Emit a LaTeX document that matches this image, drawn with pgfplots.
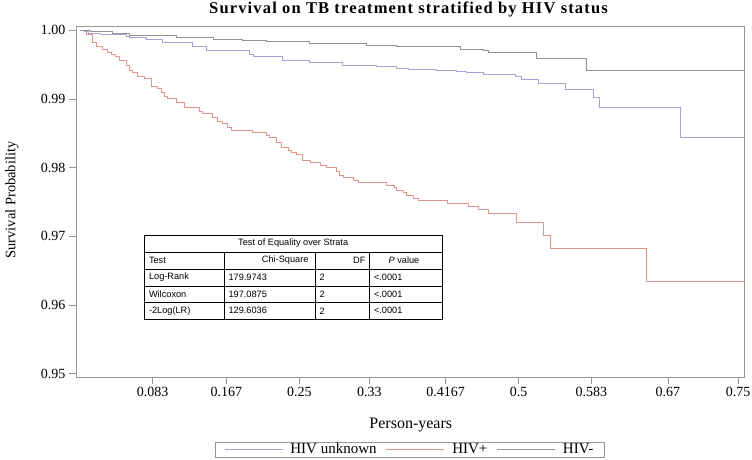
\documentclass[border=0pt]{standalone}
\usepackage{fontspec}
\setmainfont{Liberation Serif}
\newfontfamily\titlefont[LetterSpace=7]{Liberation Serif}
\newfontfamily\tabfont{Liberation Sans}
\usepackage{pgfplots}
\pgfplotsset{compat=1.18}
\definecolor{cunk}{RGB}{168,162,215}
\definecolor{cpos}{RGB}{226,150,138}
\definecolor{cneg}{RGB}{140,150,150}
\definecolor{axgray}{RGB}{150,150,150}
\begin{document}
\begin{tikzpicture}
\path[use as bounding box] (-76bp,-83bp) rectangle (676bp,377bp);
\begin{axis}[
  at={(0,0)}, anchor=south west,
  scale only axis, width=668bp, height=351bp,
  xmin=-0.00444, xmax=0.75681, ymin=0.9495, ymax=1.000626,
  axis line style={axgray},
  tick align=outside, xtick pos=bottom, ytick pos=left,
  major tick length=7bp,
  tick style={axgray, line width=0.5pt},
  xtick={0.083,0.167,0.25,0.33,0.4167,0.5,0.583,0.67,0.75},
  xticklabels={0.083,0.167,0.25,0.33,0.4167,0.5,0.583,0.67,0.75},
  ytick={0.95,0.96,0.97,0.98,0.99,1.00},
  yticklabels={0.95,0.96,0.97,0.98,0.99,1.00},
  tick label style={font=\fontsize{14bp}{16bp}\selectfont},
  legend columns=3,
  legend style={at={(0.4993,-0.2066)}, anchor=center, draw=axgray, line width=0.5pt,
    font=\fontsize{15bp}{15bp}\selectfont, inner xsep=9bp, inner ysep=0bp,
    nodes={inner sep=1.5bp},
    /tikz/every odd column/.append style={column sep=6bp},
    /tikz/every even column/.append style={column sep=8bp}},
  legend image code/.code={\draw[#1] (0bp,0bp) -- (58bp,0bp);},
]
\addplot[const plot, cunk, line width=0.6pt] coordinates {
(0,1) (0.00467,0.99983) (0.00923,0.99953) (0.02291,0.99939) (0.05254,0.99917)
(0.05630,0.99902) (0.07533,0.99869) (0.09436,0.99819) (0.12855,0.99761)
(0.14370,0.99713) (0.19305,0.99650) (0.19727,0.99615) (0.23111,0.99567)
(0.26142,0.99528) (0.29949,0.99495) (0.33744,0.99470) (0.36023,0.99441)
(0.37424,0.99432) (0.40661,0.99412) (0.42940,0.99397) (0.44080,0.99382)
(0.45972,0.99364) (0.49584,0.99334) (0.50348,0.99291) (0.52239,0.99232)
(0.55282,0.99141) (0.58507,0.99018) (0.59157,0.98883) (0.68388,0.98446)
(0.7568,0.98446)};
\addlegendentry{HIV unknown}
\addplot[const plot, cpos, line width=0.6pt] coordinates {
(0,1) (0.00695,0.99936) (0.01379,0.99830) (0.01835,0.99761) (0.02598,0.99723)
(0.03168,0.99684) (0.03544,0.99650) (0.04034,0.99626) (0.04490,0.99567)
(0.05254,0.99490) (0.05630,0.99422) (0.06017,0.99382) (0.06587,0.99334)
(0.07339,0.99295) (0.08103,0.99189) (0.08866,0.99149) (0.09242,0.99091)
(0.09618,0.99043) (0.10006,0.99004) (0.10952,0.98946) (0.11897,0.98873)
(0.13607,0.98825) (0.13994,0.98791) (0.15134,0.98727) (0.15704,0.98679)
(0.16274,0.98646) (0.16843,0.98581) (0.17219,0.98548) (0.19692,0.98514)
(0.21288,0.98475) (0.21584,0.98442) (0.22348,0.98369) (0.22997,0.98296)
(0.23749,0.98257) (0.24057,0.98223) (0.24627,0.98188) (0.25390,0.98111)
(0.26222,0.98078) (0.27362,0.98038) (0.28125,0.98005) (0.29185,0.97941)
(0.29561,0.97893) (0.30017,0.97859) (0.31157,0.97820) (0.31726,0.97786)
(0.34963,0.97747) (0.35795,0.97713) (0.36023,0.97675) (0.36855,0.97641)
(0.37162,0.97601) (0.37994,0.97558) (0.38564,0.97518) (0.41869,0.97480)
(0.44262,0.97441) (0.45402,0.97397) (0.46541,0.97335) (0.49778,0.97198)
(0.52809,0.97019) (0.53652,0.96825) (0.64513,0.96338) (0.7568,0.96338)};
\addlegendentry{HIV+}
\addplot[const plot, cneg, line width=0.6pt] coordinates {
(0,1) (0.01151,0.99983) (0.03738,0.99961) (0.05630,0.99932) (0.10952,0.99902)
(0.15168,0.99873) (0.18553,0.99859) (0.21288,0.99834) (0.26142,0.99811)
(0.32604,0.99782) (0.36023,0.99767) (0.39328,0.99761) (0.43316,0.99728)
(0.45972,0.99713) (0.46541,0.99680) (0.51977,0.99592) (0.57755,0.99417)
(0.7568,0.99417)};
\addlegendentry{HIV-}
\end{axis}
% title and axis labels
\node[anchor=base, font=\titlefont\bfseries\fontsize{16.5bp}{18bp}\selectfont] at (332.5bp,363.7bp) {Survival on TB treatment stratified by HIV status};
\node[rotate=90, font=\fontsize{14.5bp}{16bp}\selectfont] at (-64bp,177bp) {Survival Probability};
\node[anchor=base, font=\fontsize{16bp}{17bp}\selectfont] at (334.8bp,-51bp) {Person-years};
% table
\begin{scope}[font=\tabfont\fontsize{9.2bp}{10bp}\selectfont]
\draw[line width=0.6pt] (68.3bp,125bp) -- (366bp,125bp);
\draw[line width=0.6pt] (68.3bp,108bp) -- (366bp,108bp);
\draw[line width=0.6pt] (68.3bp,91bp) -- (366bp,91bp);
\draw[line width=0.6pt] (68.3bp,74.3bp) -- (366bp,74.3bp);
\draw[line width=0.6pt] (148bp,125bp) -- (148bp,58bp);
\draw[line width=0.6pt] (239bp,125bp) -- (239bp,58bp);
\draw[line width=0.6pt] (293.3bp,125bp) -- (293.3bp,58bp);
\draw[line width=0.9pt] (68.3bp,58bp) rectangle (366bp,142bp);
\node at (217.2bp,133.5bp) {Test of Equality over Strata};
\node[anchor=west] at (69.5bp,116.5bp) {Test};
\node[anchor=east] at (236bp,116.5bp) {Chi-Square};
\node[anchor=east] at (293bp,116.5bp) {DF};
\node at (328bp,116.5bp) {\textit{P} value};
\node[anchor=west] at (69.5bp,99.5bp) {Log-Rank};
\node[anchor=west] at (149bp,99.5bp) {179.9743};
\node[anchor=west] at (240bp,99.5bp) {2};
\node[anchor=west] at (294.5bp,99.5bp) {<.0001};
\node[anchor=west] at (69.5bp,82.7bp) {Wilcoxon};
\node[anchor=west] at (149bp,82.7bp) {197.0875};
\node[anchor=west] at (240bp,82.7bp) {2};
\node[anchor=west] at (294.5bp,82.7bp) {<.0001};
\node[anchor=west] at (69.5bp,66.2bp) {-2Log(LR)};
\node[anchor=west] at (149bp,66.2bp) {129.6036};
\node[anchor=west] at (240bp,66.2bp) {2};
\node[anchor=west] at (294.5bp,66.2bp) {<.0001};
\end{scope}
\end{tikzpicture}
\end{document}
